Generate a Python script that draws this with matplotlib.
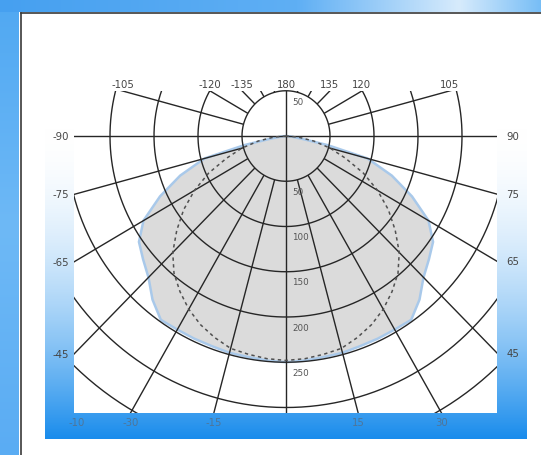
import numpy as np
import matplotlib
matplotlib.use("Agg")
import matplotlib.pyplot as plt

# luminous intensity (cd/klm) against gamma (deg, 0 = straight down)
gamma_c0 = [0, 5, 10, 15, 20, 25, 30, 35, 40, 45, 50, 55, 60, 65, 70, 75, 78, 80, 85, 90]
c0_c180 = [250, 249, 248, 248, 247, 247, 247, 248, 236, 221, 212, 204, 187, 158, 128, 96, 48, 20, 5, 0]

gamma_c90 = [0, 5, 10, 15, 20, 25, 30, 35, 40, 45, 50, 55, 60, 65, 70, 75, 80, 85, 90]
c90_c270 = [248, 247, 245, 243, 237, 230, 221, 210, 198, 182, 162, 142, 120, 97, 72, 52, 32, 14, 0]

rings = [50, 100, 150, 200, 250, 300, 350, 400]
ring_labels = ["50", "100", "150", "200", "250"]

top_angles = [-105, -120, -135, 180, 135, 120, 105]
top_text = ["-105", "-120", "-135", "180", "135", "120", "105"]
side_angles = [90, 75, 60, 45]
side_text = ["90", "75", "65", "45"]
bottom_angles = [-30, -15, 15, 30]
bottom_text = ["-30", "-15", "15", "30"]

W, H = 541, 456
fig = plt.figure(figsize=(W / 100, H / 100), dpi=100)

# window chrome in pixel coordinates
bg = fig.add_axes([0, 0, 1, 1])
bg.set_xlim(0, W)
bg.set_ylim(H, 0)
bg.axis("off")

def grad(stops, n=256):
    pos = np.array([s[0] for s in stops])
    cols = np.array([s[1] for s in stops], dtype=float) / 255
    t = np.linspace(0, 1, n)
    return np.stack([np.interp(t, pos, cols[:, k]) for k in range(3)], axis=-1)

# left strip and top strip
left = grad([(0, (80, 168, 242)), (0.5, (110, 185, 246)), (1, (90, 172, 243))])
bg.imshow(left[:, None, :], extent=(0, 19, H, 0), aspect="auto", zorder=0)
top = grad([(0, (70, 160, 240)), (0.55, (95, 175, 244)), (0.85, (215, 235, 252)), (1, (120, 190, 246))])
bg.imshow(top[None, :, :], extent=(0, W, 13, 0), aspect="auto", zorder=0)
bg.plot([20.5, 20.5], [13.5, H], color="#3a3a3a", lw=1.2, zorder=2)
bg.plot([20.5, W], [13.5, 13.5], color="#3a3a3a", lw=1.2, zorder=2)

# blue bands around the plot, white at top to blue at bottom
t = np.clip((np.linspace(92, 440, 300) - 130) / 310, 0, 1) ** 1.8
band = (1 - t)[:, None] * np.array([1, 1, 1]) + t[:, None] * np.array([25, 140, 236]) / 255
bg.imshow(band[:, None, :], extent=(45, 527, 440, 92), aspect="auto", zorder=1)

# diagram axes
cx, cy = 286, 137
sx, sy = 0.88, 0.905
x0, x1, ytop, ybot = 74, 497, 92, 414
ax = fig.add_axes([x0 / W, (H - ybot) / H, (x1 - x0) / W, (ybot - ytop) / H])
ax.set_xlim((x0 - cx) / sx, (x1 - cx) / sx)
ax.set_ylim(-(ybot - cy) / sy, (cy - ytop) / sy)
ax.axis("off")
ax.add_patch(plt.Rectangle((0, 0), 1, 1, transform=ax.transAxes, color="white", zorder=0))

def xy(r, g):
    g = np.radians(g)
    return np.asarray(r) * np.sin(g), -np.asarray(r) * np.cos(g)

# C0-C180 plane, filled
g = np.r_[-np.array(gamma_c0[::-1]), np.array(gamma_c0[1:])]
r = np.r_[c0_c180[::-1], c0_c180[1:]]
px, py = xy(r, g)
ax.fill(px, py, facecolor="#dbdbdb", edgecolor="#a9c9ea", lw=1.8, zorder=1)

grid = dict(color="#262626", lw=1.0, zorder=2, solid_capstyle="butt")
th = np.linspace(0, 2 * np.pi, 400)
for rr in rings:
    ax.plot(rr * np.cos(th), rr * np.sin(th), clip_on=(rr != 50), **grid)
for a in range(-165, 181, 15):
    r_start = 0 if a in (0, 90, -90, 180) else 50
    lx, ly = xy([r_start, 600], [a, a])
    ax.plot(lx, ly, **grid)

# C90-C270 plane, dashed
g = np.r_[-np.array(gamma_c90[::-1]), np.array(gamma_c90[1:])]
r = np.r_[c90_c270[::-1], c90_c270[1:]]
px, py = xy(r, g)
ax.plot(px, py, color="#505050", lw=1.1, ls=(0, (2.2, 2.2)), zorder=3)

# ring labels along the vertical
lab = dict(fontsize=6.3, color="#555555", ha="left", va="top", textcoords="offset points", zorder=4)
ax.annotate("50", (0, 50), xytext=(4.5, -4.5), annotation_clip=False, **lab)
for rr, s in zip(rings, ring_labels):
    ax.annotate(s, (0, -rr), xytext=(4.5, -4.0), **lab)

xl, yl = ax.get_xlim(), ax.get_ylim()

def hit(a):
    dx, dy = np.sin(np.radians(a)), -np.cos(np.radians(a))
    ts = []
    if dx > 1e-9: ts.append(xl[1] / dx)
    if dx < -1e-9: ts.append(xl[0] / dx)
    if dy > 1e-9: ts.append(yl[1] / dy)
    if dy < -1e-9: ts.append(yl[0] / dy)
    tt = min(ts)
    return tt * dx, tt * dy

albl = dict(fontsize=7.3, color="#444444", textcoords="offset points", annotation_clip=False)
for a, s in zip(top_angles, top_text):
    ax.annotate(s, hit(a), xytext=(0, 1.5), ha="center", va="bottom", **albl)
for a, s in zip(side_angles, side_text):
    ax.annotate("-" + s, hit(-a), xytext=(-9.5, 0), ha="center", va="center", **albl)
    ax.annotate(s, hit(a), xytext=(11.5, 0), ha="center", va="center", **albl)
blbl = dict(albl, color="#4f7598")
for a, s in zip(bottom_angles, bottom_text):
    ax.annotate(s, hit(a), xytext=(0, -6.5), ha="center", va="center", **blbl)
ax.annotate("-10", (xl[0], yl[0]), xytext=(2, -6.5), ha="center", va="center", **blbl)

fig.savefig("out.png", dpi=100)
